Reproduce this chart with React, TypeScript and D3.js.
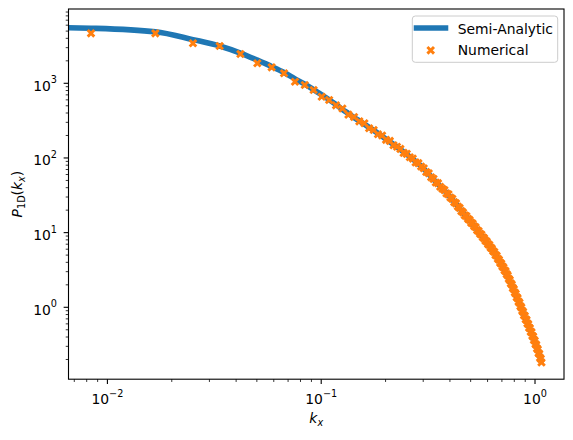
import React from "react";
import * as d3 from "d3";

// wavenumbers k_x (numerical grid)
const kNumerical = [
  0.00838, 0.01676, 0.02513, 0.03351, 0.04189, 0.05027, 0.05864, 0.06702, 0.0754, 0.08378,
  0.09215, 0.10053, 0.10891, 0.11729, 0.12566, 0.13404, 0.14242, 0.1508, 0.15917, 0.16755,
  0.17593, 0.18431, 0.19268, 0.20106, 0.20944, 0.21782, 0.22619, 0.23457, 0.24295, 0.25133,
  0.2597, 0.26808, 0.27646, 0.28484, 0.29322, 0.30159, 0.30997, 0.31835, 0.32673, 0.3351,
  0.34348, 0.35186, 0.36024, 0.36861, 0.37699, 0.38537, 0.39375, 0.40212, 0.4105, 0.41888,
  0.42726, 0.43563, 0.44401, 0.45239, 0.46077, 0.46914, 0.47752, 0.4859, 0.49428, 0.50265,
  0.51103, 0.51941, 0.52779, 0.53617, 0.54454, 0.55292, 0.5613, 0.56968, 0.57805, 0.58643,
  0.59481, 0.60319, 0.61156, 0.61994, 0.62832, 0.6367, 0.64507, 0.65345, 0.66183, 0.67021,
  0.67858, 0.68696, 0.69534, 0.70372, 0.71209, 0.72047, 0.72885, 0.73723, 0.74561, 0.75398,
  0.76236, 0.77074, 0.77912, 0.78749, 0.79587, 0.80425, 0.81263, 0.821, 0.82938, 0.83776,
  0.84614, 0.85451, 0.86289, 0.87127, 0.87965, 0.88802, 0.8964, 0.90478, 0.91316, 0.92153,
  0.92991, 0.93829, 0.94667, 0.95505, 0.96342, 0.9718, 0.98018, 0.98856, 0.99693, 1.00531,
  1.01369, 1.02207, 1.03044, 1.03882, 1.0472, 1.05558, 1.06395, 1.07233,
];

// log10 P_1D of the numerical markers
const log10PNumerical = [
  3.669, 3.669, 3.536, 3.499, 3.392, 3.268, 3.214, 3.134, 3.021, 2.977,
  2.91, 2.82, 2.776, 2.705, 2.662, 2.58, 2.548, 2.49, 2.465, 2.398,
  2.375, 2.318, 2.301, 2.243, 2.228, 2.17, 2.15, 2.121, 2.068, 2.055,
  2.01, 1.992, 1.94, 1.93, 1.885, 1.862, 1.812, 1.795, 1.742, 1.72,
  1.672, 1.662, 1.615, 1.588, 1.57, 1.525, 1.512, 1.47, 1.452, 1.408,
  1.392, 1.35, 1.331, 1.288, 1.27, 1.232, 1.222, 1.185, 1.17, 1.134,
  1.121, 1.085, 1.072, 1.033, 1.02, 0.985, 0.974, 0.938, 0.926, 0.892,
  0.88, 0.846, 0.835, 0.8, 0.788, 0.754, 0.74, 0.702, 0.69, 0.65,
  0.637, 0.598, 0.585, 0.548, 0.533, 0.495, 0.482, 0.444, 0.426, 0.382,
  0.364, 0.32, 0.304, 0.26, 0.243, 0.198, 0.181, 0.136, 0.12, 0.076,
  0.06, 0.015, -0.002, -0.046, -0.062, -0.106, -0.117, -0.16, -0.172, -0.216,
  -0.226, -0.272, -0.281, -0.326, -0.336, -0.382, -0.392, -0.436, -0.448, -0.492,
  -0.505, -0.551, -0.564, -0.612, -0.626, -0.675, -0.69, -0.738,
];

// semi-analytic curve: k = 0 followed by the same grid
const kSemiAnalytic = [0, ...kNumerical];
const log10PSemiAnalytic = [
  3.745,
  3.738, 3.69, 3.585, 3.5, 3.405, 3.31, 3.225, 3.145, 3.06, 2.988,
  2.915, 2.845, 2.78, 2.715, 2.65, 2.595, 2.54, 2.497, 2.453, 2.41,
  2.37, 2.33, 2.29, 2.25, 2.216, 2.182, 2.148, 2.114, 2.08, 2.048,
  2.017, 1.985, 1.953, 1.922, 1.89, 1.855, 1.82, 1.785, 1.75, 1.715,
  1.68, 1.651, 1.621, 1.592, 1.563, 1.534, 1.504, 1.475, 1.445, 1.415,
  1.385, 1.355, 1.325, 1.295, 1.265, 1.24, 1.215, 1.19, 1.165, 1.14,
  1.115, 1.09, 1.065, 1.04, 1.015, 0.99, 0.967, 0.944, 0.921, 0.898,
  0.875, 0.852, 0.829, 0.806, 0.783, 0.76, 0.734, 0.708, 0.683, 0.657,
  0.631, 0.605, 0.579, 0.553, 0.528, 0.502, 0.476, 0.45, 0.419, 0.389,
  0.358, 0.328, 0.297, 0.266, 0.236, 0.205, 0.174, 0.144, 0.113, 0.083,
  0.052, 0.022, -0.009, -0.039, -0.07, -0.098, -0.125, -0.153, -0.18, -0.208,
  -0.235, -0.263, -0.29, -0.318, -0.345, -0.373, -0.4, -0.428, -0.456, -0.484,
  -0.513, -0.542, -0.572, -0.603, -0.634, -0.666, -0.698, -0.73,
];

const xTickExponents = [-2, -1, 0];
const yTickExponents = [0, 1, 2, 3];
const legendLabels = ["Semi-Analytic", "Numerical"];

const W = 573;
const H = 440;
const AX = { left: 68.5, right: 564, top: 9, bottom: 379.2 };
const BLUE = "#1f77b4";
const ORANGE = "#ff7f0e";
const FONT = "'DejaVu Sans', sans-serif";
const FS = 13.9;
const SUP = 9.7;

const xScale = d3
  .scaleLog()
  .domain([Math.pow(10, -2.182), Math.pow(10, 0.1356)])
  .range([AX.left, AX.right]);
const yScale = d3
  .scaleLog()
  .domain([Math.pow(10, -0.963), Math.pow(10, 3.995)])
  .range([AX.bottom, AX.top]);

const isPow10 = (v: number) => Math.abs(Math.log10(v) - Math.round(Math.log10(v))) < 1e-9;

function Cross({ cx, cy }: { cx: number; cy: number }) {
  const s = 3.3;
  return (
    <path
      d={`M${cx - s},${cy - s}L${cx + s},${cy + s}M${cx - s},${cy + s}L${cx + s},${cy - s}`}
      stroke={ORANGE}
      strokeWidth={2.9}
      fill="none"
    />
  );
}

function PowLabel({ exp }: { exp: number }) {
  const e = exp < 0 ? "\u2212" + Math.abs(exp) : String(exp);
  return (
    <>
      <tspan>10</tspan>
      <tspan fontSize={SUP} dy={-7.4}>
        {e}
      </tspan>
    </>
  );
}

export default function App() {
  const xTicks = xScale.ticks();
  const yTicks = yScale.ticks();
  const x0 = xScale.domain()[0];

  const line = d3
    .line<number>()
    .x((_, i) => xScale(Math.max(kSemiAnalytic[i], x0)))
    .y((v) => yScale(Math.pow(10, v)))
    .curve(d3.curveMonotoneX);

  return (
    <svg
      width={W}
      height={H}
      style={{ position: "absolute", left: 0, top: 0, background: "#fff" }}
      fontFamily={FONT}
    >
      <defs>
        <clipPath id="axclip">
          <rect x={AX.left} y={AX.top} width={AX.right - AX.left} height={AX.bottom - AX.top} />
        </clipPath>
      </defs>
      <rect x={0} y={0} width={W} height={H} fill="#fff" />

      <g clipPath="url(#axclip)">
        <path
          d={line(log10PSemiAnalytic) || ""}
          stroke={BLUE}
          strokeWidth={5.56}
          fill="none"
          strokeLinejoin="round"
        />
        {kNumerical.map((k, i) => (
          <Cross key={i} cx={xScale(k)} cy={yScale(Math.pow(10, log10PNumerical[i]))} />
        ))}
      </g>

      {/* x ticks */}
      {xTicks.map((t, i) => {
        const major = isPow10(t);
        const x = xScale(t);
        return (
          <line
            key={"xt" + i}
            x1={x}
            x2={x}
            y1={AX.bottom}
            y2={AX.bottom + (major ? 4.86 : 2.78)}
            stroke="#000"
            strokeWidth={major ? 1.1 : 0.8}
          />
        );
      })}
      {xTickExponents.map((e) => (
        <text key={"xl" + e} x={xScale(Math.pow(10, e))} y={404} fontSize={FS} textAnchor="middle" fill="#000">
          <PowLabel exp={e} />
        </text>
      ))}

      {/* y ticks */}
      {yTicks.map((t, i) => {
        const major = isPow10(t);
        const y = yScale(t);
        return (
          <line
            key={"yt" + i}
            x1={AX.left}
            x2={AX.left - (major ? 4.86 : 2.78)}
            y1={y}
            y2={y}
            stroke="#000"
            strokeWidth={major ? 1.1 : 0.8}
          />
        );
      })}
      {yTickExponents.map((e) => (
        <text key={"yl" + e} x={57} y={yScale(Math.pow(10, e)) + 7.4} fontSize={FS} textAnchor="end" fill="#000">
          <PowLabel exp={e} />
        </text>
      ))}

      {/* frame */}
      <rect
        x={AX.left}
        y={AX.top}
        width={AX.right - AX.left}
        height={AX.bottom - AX.top}
        fill="none"
        stroke="#000"
        strokeWidth={1.1}
      />

      {/* axis labels */}
      <text x={(AX.left + AX.right) / 2} y={423} fontSize={FS} textAnchor="middle" fill="#000">
        <tspan fontStyle="italic">k</tspan>
        <tspan fontStyle="italic" fontSize={SUP} dy={3}>x</tspan>
      </text>
      <text
        transform={`translate(22,${(AX.top + AX.bottom) / 2}) rotate(-90)`}
        fontSize={FS}
        textAnchor="middle"
        fill="#000"
      >
        <tspan fontStyle="italic">P</tspan>
        <tspan fontSize={SUP} dy={3}>1D</tspan>
        <tspan dy={-3}>(</tspan>
        <tspan fontStyle="italic">k</tspan>
        <tspan fontStyle="italic" fontSize={SUP} dy={3}>x</tspan>
        <tspan dy={-3}>)</tspan>
      </text>

      {/* legend */}
      <rect x={412.3} y={16} width={145.4} height={46.3} rx={3} ry={3} fill="#fff" fillOpacity={0.8} stroke="#cccccc" strokeWidth={1} />
      <line x1={416.5} x2={445.5} y1={28} y2={28} stroke={BLUE} strokeWidth={5.56} strokeLinecap="square" />
      <text x={457.7} y={34} fontSize={FS} fill="#000">{legendLabels[0]}</text>
      <Cross cx={430.7} cy={50.3} />
      <text x={457.7} y={55} fontSize={FS} fill="#000">{legendLabels[1]}</text>
    </svg>
  );
}
